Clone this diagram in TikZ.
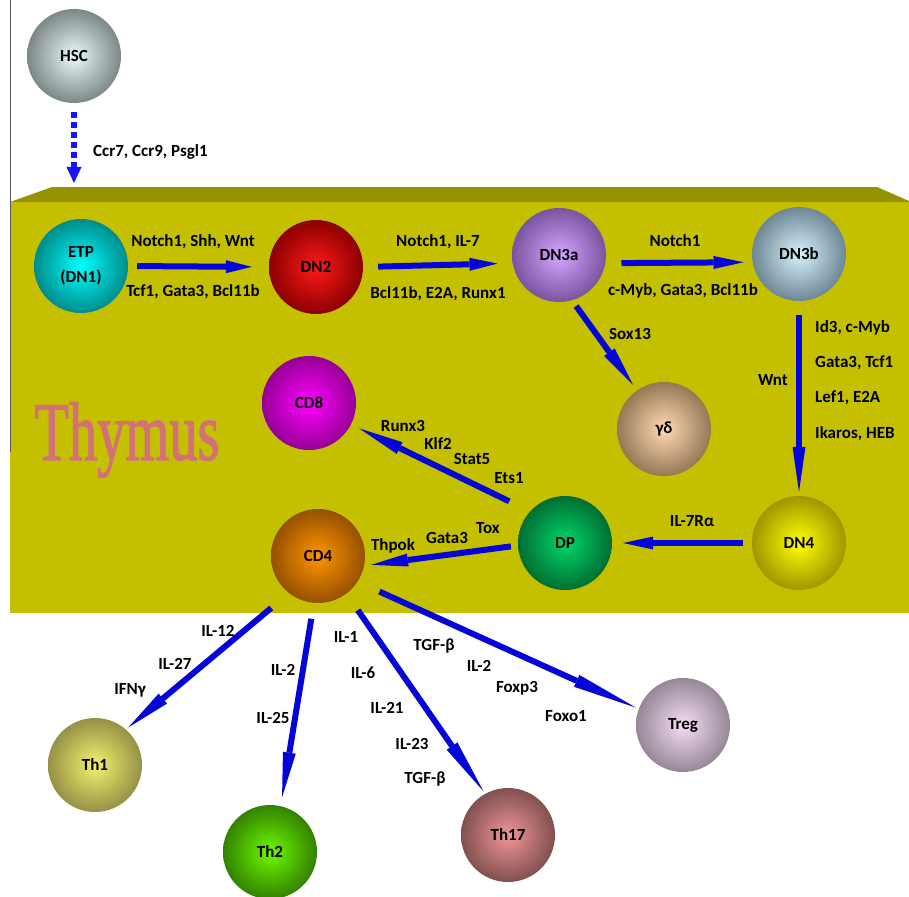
\documentclass[tikz,border=0pt]{standalone}
\usepackage{fontspec}
\setmainfont{Carlito}
\newfontfamily\thyfont[FakeBold=1.6]{Liberation Serif}
\usetikzlibrary{arrows.meta,calc}

\definecolor{arrblue}{RGB}{5,5,215}
\definecolor{dotblue}{RGB}{20,20,255}
\definecolor{boxfront}{RGB}{196,192,0}
\definecolor{boxtop}{RGB}{150,146,0}
\definecolor{thypink}{RGB}{212,112,120}

\begin{document}
\begin{tikzpicture}[x=1pt,y=-1pt,
  cell/.style={circle, minimum size=94pt, inner sep=0pt, shading=radial, align=center,
    font=\fontsize{17}{25}\selectfont\bfseries, text=black},
  lab/.style={font=\fontsize{17}{20}\selectfont\bfseries, inner sep=0pt, text=black},
  flow/.style={draw=arrblue, line width=6pt,
    -{Triangle[length=#1, width=13pt, line width=0pt]}},
  flow/.default=40pt,
  dotflow/.style={draw=dotblue, line width=6pt, dash pattern=on 6pt off 4pt,
    -{Triangle[length=16pt, width=15pt, line width=0pt]}},
  thy/.style={font=\thyfont\fontsize{83}{83}\selectfont, xscale=0.68, inner sep=0pt},
]
\useasboundingbox (0,0) rectangle (909,896);
\fill[white] (0,0) rectangle (909,896);

% thymus box
\fill[boxfront] (10,202) rectangle (909,613);
\fill[boxtop] (10,202) -- (52,187) -- (877,187) -- (909,201) -- (909,202) -- cycle;
\draw[black!65, line width=1pt] (10,0) -- (10,452);

% Thymus title
\node[thy, text=thypink] (thytitle) at (127,440) {Thymus};

% cells
\node[cell, inner color={rgb,255:red,235;green,250;blue,250}, outer color={rgb,255:red,125;green,135;blue,135}] (HSC) at (74,56) {HSC};
\node[cell, inner color={rgb,255:red,0;green,255;blue,255}, outer color={rgb,255:red,0;green,140;blue,140}] (ETP) at (81,266) {ETP\\(DN1)};
\node[cell, inner color={rgb,255:red,255;green,25;blue,25}, outer color={rgb,255:red,140;green,0;blue,0}] (DN2) at (316,267) {DN2};
\node[cell, inner color={rgb,255:red,215;green,165;blue,255}, outer color={rgb,255:red,120;green,85;blue,160}] (DN3a) at (559,255) {DN3a};
\node[cell, inner color={rgb,255:red,215;green,242;blue,252}, outer color={rgb,255:red,110;green,135;blue,150}] (DN3b) at (799,254) {DN3b};
\node[cell, inner color={rgb,255:red,255;green,0;blue,255}, outer color={rgb,255:red,150;green,0;blue,150}] (CD8) at (309,403) {CD8};
\node[cell, inner color={rgb,255:red,255;green,218;blue,180}, outer color={rgb,255:red,150;green,120;blue,85}] (gd) at (664,429) {γδ};
\node[cell, inner color={rgb,255:red,0;green,215;blue,105}, outer color={rgb,255:red,0;green,110;blue,50}] (DP) at (565,543) {DP};
\node[cell, inner color={rgb,255:red,255;green,255;blue,0}, outer color={rgb,255:red,160;green,150;blue,0}] (DN4) at (799,543) {DN4};
\node[cell, inner color={rgb,255:red,255;green,150;blue,0}, outer color={rgb,255:red,150;green,80;blue,0}] (CD4) at (318,556) {CD4};
\node[cell, inner color={rgb,255:red,242;green,242;blue,110}, outer color={rgb,255:red,150;green,145;blue,70}] (Th1) at (95,765) {Th1};
\node[cell, inner color={rgb,255:red,110;green,250;blue,0}, outer color={rgb,255:red,50;green,130;blue,0}] (Th2) at (270,852) {Th2};
\node[cell, inner color={rgb,255:red,240;green,150;blue,150}, outer color={rgb,255:red,130;green,80;blue,80}] (Th17) at (508,835) {Th17};
\node[cell, inner color={rgb,255:red,245;green,222;blue,245}, outer color={rgb,255:red,150;green,135;blue,150}] (Treg) at (683,725) {Treg};

% HSC arrow
\coordinate (entry) at (74,183);
\draw[dotflow, shorten <=9pt] (HSC.south) -- (entry);
\node[lab, anchor=west] (lccr) at (93,152) {Ccr7, Ccr9, Psgl1};

% row 1
\draw[flow=26pt, shorten <=9pt, shorten >=17pt] (ETP.east) -- (DN2.west);
\draw[flow=28pt, shorten <=15pt, shorten >=15pt] (DN2.east) -- (DN3a.190);
\draw[flow=30pt, shorten <=16pt, shorten >=9pt] (DN3a.-10) -- (DN3b.190);
\node[lab] (l1a) at (193,242) {Notch1, Shh, Wnt};
\node[lab] (l1b) at (193,292) {Tcf1, Gata3, Bcl11b};
\node[lab] (l2a) at (438,242) {Notch1, IL-7};
\node[lab] (l2b) at (438,294) {Bcl11b, E2A, Runx1};
\node[lab] (l3a) at (675,241) {Notch1};
\node[lab] (l3b) at (683,291) {c-Myb, Gata3, Bcl11b};

% DN3a -> gamma delta
\draw[flow=40pt, shorten <=7pt, shorten >=7pt] (DN3a.-74) -- (gd.125);
\node[lab] (lsox) at (630,334) {Sox13};

% DN3b -> DN4
\draw[flow=45pt, shorten <=14pt, shorten >=4pt] (DN3b.south) -- (DN4.north);
\node[lab, anchor=east] (lwnt) at (788,380) {Wnt};
\node[lab, anchor=west] (ld1) at (815,328) {Id3, c-Myb};
\node[lab, anchor=west] (ld2) at (815,363) {Gata3, Tcf1};
\node[lab, anchor=west] (ld3) at (815,398) {Lef1, E2A};
\node[lab, anchor=west] (ld4) at (815,434) {Ikaros, HEB};

% DN4 -> DP
\draw[flow=30pt, shorten <=9pt, shorten >=11pt] (DN4.west) -- (DP.east);
\node[lab] (lil7r) at (692,521) {IL-7Rα};

% DP -> CD8
\draw[flow=45pt, shorten <=23pt, shorten >=9pt] (DP.138) -- (CD8.-27);
\node[lab] (lrunx) at (403,426) {Runx3};
\node[lab] (lklf) at (438,444) {Klf2};
\node[lab] (lstat) at (472,459) {Stat5};
\node[lab] (lets) at (509,478) {Ets1};

% DP -> CD4
\draw[flow=37pt, shorten <=7pt, shorten >=7pt] (DP.183) -- (CD4.-12);
\node[lab] (ltox) at (488,528) {Tox};
\node[lab] (lgata) at (447,538) {Gata3};
\node[lab] (lthpok) at (393,546) {Thpok};

% CD4 -> Th1
\draw[flow=45pt, shorten <=23pt, shorten >=3pt] (CD4.232) -- (Th1.49);
\node[lab] (lil12) at (218,631) {IL-12};
\node[lab] (lil27) at (175,664) {IL-27};
\node[lab] (lifn) at (130,690) {IFNγ};

% CD4 -> Th2
\draw[flow=45pt, shorten <=16pt, shorten >=9pt] (CD4.265) -- (Th2.77);
\node[lab] (lil2a) at (283,670) {IL-2};
\node[lab] (lil25) at (273,718) {IL-25};

% CD4 -> Th17
\draw[flow=55pt, shorten <=20pt, shorten >=3pt] (CD4.-53) -- (Th17.119);
\node[lab] (lil1) at (346,637) {IL-1};
\node[lab] (lil6) at (363,673) {IL-6};
\node[lab] (lil21) at (387,708) {IL-21};
\node[lab] (lil23) at (412,744) {IL-23};
\node[lab] (ltgfa) at (425,779) {TGF-β};

% CD4 -> Treg
\draw[flow=65pt, shorten <=24pt, shorten >=3pt] (CD4.-33) -- (Treg.160);
\node[lab] (ltgfb) at (434,646) {TGF-β};
\node[lab] (lil2b) at (479,666) {IL-2};
\node[lab] (lfoxp) at (517,688) {Foxp3};
\node[lab] (lfoxo) at (566,716) {Foxo1};
\end{tikzpicture}
\end{document}
